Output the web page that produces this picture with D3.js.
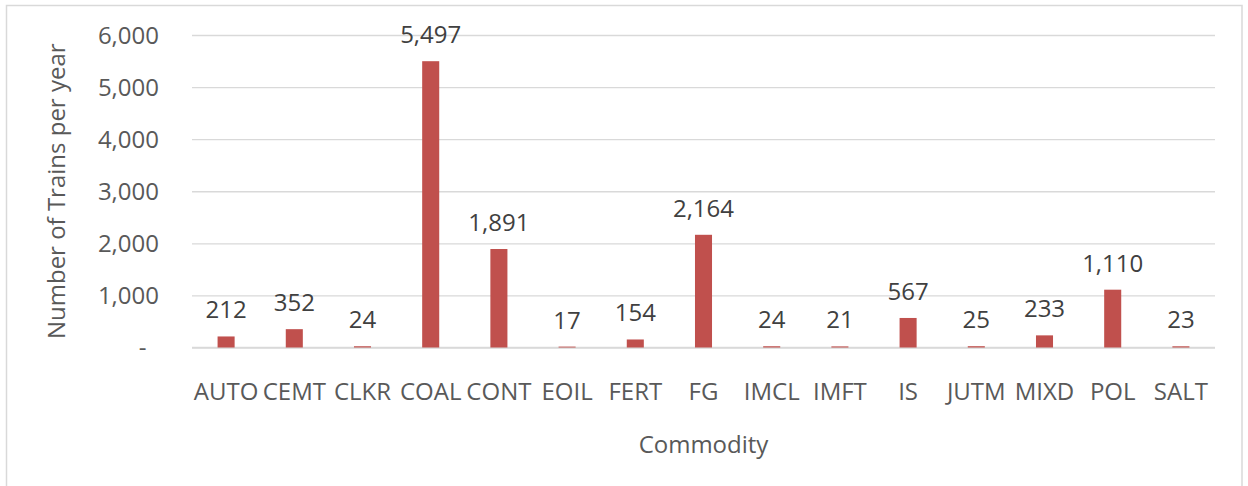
<!DOCTYPE html>
<html>
<head>
<meta charset="utf-8">
<script src="https://cdn.jsdelivr.net/npm/d3@7"></script>
<style>
  html, body { margin: 0; padding: 0; background: #fff; }
  svg { display: block; }
  text { font-family: "Open Sans", "Noto Sans", sans-serif; }
</style>
</head>
<body>
<svg id="chart" width="1248" height="486"></svg>
<script>
const categories = ["AUTO", "CEMT", "CLKR", "COAL", "CONT", "EOIL", "FERT", "FG", "IMCL", "IMFT", "IS", "JUTM", "MIXD", "POL", "SALT"];
const trainsPerYear = [212, 352, 24, 5497, 1891, 17, 154, 2164, 24, 21, 567, 25, 233, 1110, 23];
const tickValues = [0, 1000, 2000, 3000, 4000, 5000, 6000];
const tickLabels = ["-  ", "1,000", "2,000", "3,000", "4,000", "5,000", "6,000"];
const yTitle = "Number of Trains per year";
const xTitle = "Commodity";

const svg = d3.select("#chart");
const plot = { left: 192, right: 1215, top: 35, bottom: 347.5 };

// outer chart border
svg.append("rect")
  .attr("x", 6.5).attr("y", 5.5)
  .attr("width", 1235.5).attr("height", 520)
  .attr("fill", "#fff").attr("stroke", "#d9d9d9").attr("stroke-width", 1.5);

const x = d3.scaleBand()
  .domain(categories)
  .range([plot.left, plot.right])
  .paddingInner(0.75)
  .paddingOuter(0.375);

const y = d3.scaleLinear()
  .domain([0, 6000])
  .range([plot.bottom, plot.top]);

// gridlines + y tick labels
const yAxis = d3.axisLeft(y)
  .tickValues(tickValues)
  .tickSize(-(plot.right - plot.left))
  .tickPadding(33)
  .tickFormat((d, i) => tickLabels[i]);

const gy = svg.append("g")
  .attr("transform", `translate(${plot.left},0)`)
  .call(yAxis);
gy.select(".domain").remove();
gy.selectAll(".tick line").attr("stroke", "#d9d9d9").attr("stroke-width", 1.3);
gy.selectAll(".tick text")
  .attr("fill", "#595959")
  .style("font-size", "24px")
  .style("white-space", "pre")
  .attr("dy", "0.35em");

// baseline
svg.append("line")
  .attr("x1", plot.left).attr("x2", plot.right)
  .attr("y1", y(0)).attr("y2", y(0))
  .attr("stroke", "#d9d9d9").attr("stroke-width", 1.6);

// bars
svg.append("g").selectAll("rect")
  .data(categories)
  .join("rect")
  .attr("x", d => x(d))
  .attr("width", x.bandwidth())
  .attr("y", (d, i) => y(trainsPerYear[i]))
  .attr("height", (d, i) => y(0) - y(trainsPerYear[i]))
  .attr("fill", "#c0504d");

// data labels
const fmt = d3.format(",");
svg.append("g").selectAll("text")
  .data(categories)
  .join("text")
  .attr("x", d => x(d) + x.bandwidth() / 2)
  .attr("y", (d, i) => y(trainsPerYear[i]) - 18)
  .attr("text-anchor", "middle")
  .attr("fill", "#404040")
  .style("font-size", "24px")
  .text((d, i) => fmt(trainsPerYear[i]));

// x category labels
const xAxis = d3.axisBottom(x).tickSize(0).tickPadding(0);
const gx = svg.append("g")
  .attr("transform", `translate(0,${plot.bottom})`)
  .call(xAxis);
gx.select(".domain").remove();
gx.selectAll(".tick text")
  .attr("y", 52.5)
  .attr("dy", 0)
  .attr("fill", "#595959")
  .style("font-size", "24px");

// axis titles
svg.append("text")
  .attr("x", (plot.left + plot.right) / 2)
  .attr("y", 453)
  .attr("text-anchor", "middle")
  .attr("fill", "#595959")
  .style("font-size", "24px")
  .text(xTitle);

svg.append("text")
  .attr("transform", `translate(65,${(plot.top + plot.bottom) / 2}) rotate(-90)`)
  .attr("text-anchor", "middle")
  .attr("fill", "#595959")
  .style("font-size", "24px")
  .text(yTitle);
</script>
</body>
</html>
